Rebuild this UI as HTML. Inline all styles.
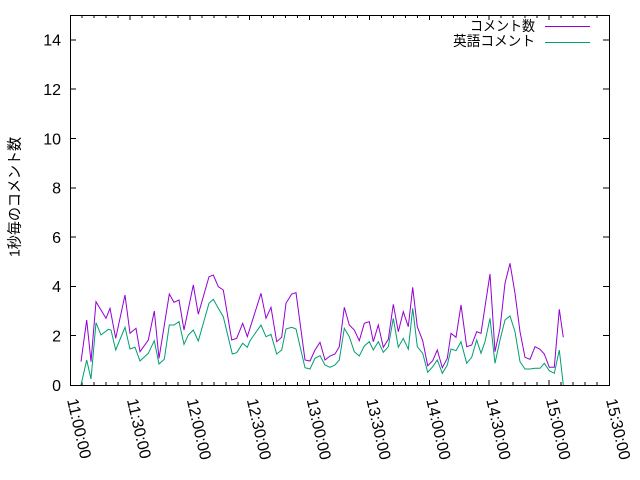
<!DOCTYPE html>
<html><head><meta charset="utf-8"><style>
html,body{margin:0;padding:0;background:#fff;}
svg{display:block;}
text{font-family:"Liberation Sans","Noto Sans CJK JP",sans-serif;fill:#000;}
</style></head><body>
<svg width="640" height="480" viewBox="0 0 640 480" xmlns="http://www.w3.org/2000/svg">
<rect width="640" height="480" fill="#fff"/>
<g stroke="#000" stroke-width="1" fill="none" shape-rendering="crispEdges">
<rect x="70.5" y="15.5" width="539" height="370"/>
<path d="M70 335.7h6M70 286.4h6M70 237.1h6M70 187.8h6M70 138.5h6M70 89.2h6M70 39.9h6
M609 335.7h-6M609 286.4h-6M609 237.1h-6M609 187.8h-6M609 138.5h-6M609 89.2h-6M609 39.9h-6"/>
<path d="M129.9 385v-5M189.8 385v-5M249.7 385v-5M309.6 385v-5M369.4 385v-5M429.3 385v-5M489.2 385v-5M549.1 385v-5
M129.9 15v5M189.8 15v5M249.7 15v5M309.6 15v5M369.4 15v5M429.3 15v5M489.2 15v5M549.1 15v5"/>
<path d="M82 385v-3M94 385v-3M106 385v-3M118 385v-3
M142 385v-3M154 385v-3M166 385v-3M178 385v-3
M202 385v-3M214 385v-3M226 385v-3M238 385v-3
M261.6 385v-3M273.6 385v-3M285.6 385v-3M297.6 385v-3
M321.5 385v-3M333.5 385v-3M345.5 385v-3M357.5 385v-3
M381.4 385v-3M393.4 385v-3M405.4 385v-3M417.4 385v-3
M441.3 385v-3M453.3 385v-3M465.3 385v-3M477.3 385v-3
M501.2 385v-3M513.2 385v-3M525.2 385v-3M537.2 385v-3
M561.1 385v-3M573.1 385v-3M585.1 385v-3M597.1 385v-3
M82 15v3M94 15v3M106 15v3M118 15v3
M142 15v3M154 15v3M166 15v3M178 15v3
M202 15v3M214 15v3M226 15v3M238 15v3
M261.6 15v3M273.6 15v3M285.6 15v3M297.6 15v3
M321.5 15v3M333.5 15v3M345.5 15v3M357.5 15v3
M381.4 15v3M393.4 15v3M405.4 15v3M417.4 15v3
M441.3 15v3M453.3 15v3M465.3 15v3M477.3 15v3
M501.2 15v3M513.2 15v3M525.2 15v3M537.2 15v3
M561.1 15v3M573.1 15v3M585.1 15v3M597.1 15v3"/>
</g>
<g font-size="16" text-anchor="end">
<text x="61" y="391">0</text>
<text x="61" y="341.5">2</text>
<text x="61" y="292.2">4</text>
<text x="61" y="242.9">6</text>
<text x="61" y="193.6">8</text>
<text x="61" y="144.3">10</text>
<text x="61" y="95">12</text>
<text x="61" y="45.7">14</text>
</g>
<g font-size="16">
<text transform="translate(67,400) rotate(77)">11:00:00</text>
<text transform="translate(126.9,400) rotate(77)">11:30:00</text>
<text transform="translate(186.8,400) rotate(77)">12:00:00</text>
<text transform="translate(246.7,400) rotate(77)">12:30:00</text>
<text transform="translate(306.6,400) rotate(77)">13:00:00</text>
<text transform="translate(366.4,400) rotate(77)">13:30:00</text>
<text transform="translate(426.3,400) rotate(77)">14:00:00</text>
<text transform="translate(486.2,400) rotate(77)">14:30:00</text>
<text transform="translate(546.1,400) rotate(77)">15:00:00</text>
<text transform="translate(606,400) rotate(77)">15:30:00</text>
</g>
<text transform="translate(19.5,197) rotate(-90)" font-size="15" text-anchor="middle" textLength="120" lengthAdjust="spacingAndGlyphs">1秒毎のコメント数</text>
<text x="535" y="31" font-size="14" text-anchor="end" textLength="65" lengthAdjust="spacingAndGlyphs">コメント数</text>
<text x="535" y="46" font-size="14" text-anchor="end" textLength="82" lengthAdjust="spacingAndGlyphs">英語コメント</text>
<line x1="545" y1="26.5" x2="590" y2="26.5" stroke="#9400D3" stroke-width="1"/>
<line x1="545" y1="42.5" x2="590" y2="42.5" stroke="#009E73" stroke-width="1"/>
<polyline fill="none" stroke="#9400D3" stroke-width="1" points="81,361.7 86.7,320 91,361.7 96,301.7 106,318.3 110,308.3 115.7,338.3 125,295 130,333.3 136,328.3 140,351.7 148.3,340 154.3,311 159,358.3 169.3,294 174,302.3 179,300 184,330 193.3,285 198.3,314.3 209,276.7 213.3,275 218.3,286.7 223.3,290 231.7,340 236.7,338.3 242.7,323.3 247.3,336.7 261,293.3 266,318.3 271,307.3 276.7,341.7 281.7,337.3 286,303.3 291.7,294 296,292.7 305,360 310,361 315,350 320,342.3 325,360 330,356 335,354 339.3,346.7 344.3,307.3 349.3,325 354.3,330 359.3,340.7 364.3,323.3 369.3,321.7 373.3,341.7 378.3,325 383.3,347.3 388.3,339.3 393.3,304.3 398.3,331.7 403.3,311.7 408.3,326.7 412.7,287.3 417.3,326.7 422.7,340.7 427.7,365.7 432.7,360.7 437.3,350 442.3,367.7 447.3,358.3 451,333.3 456,337.3 461,305 466.7,346.7 471.7,345 476.7,331.7 481,333.3 485,306.7 490,274 495,351.7 500,328.3 505,283.3 510,263.3 515,293.3 520,331.7 525,357.3 530,359.3 535,346.7 540,349.3 544.3,354 549.3,367.3 554.3,367.3 559.3,309.3 563.3,337.3"/>
<polyline fill="none" stroke="#009E73" stroke-width="1" points="81,385 86.7,360 91,379 96,322.7 101,335 108.3,329.3 111,330 115.7,350 125,327.3 130,349 135,347.3 140,361 148.3,353.3 154.3,340.7 159,364 164.3,359.3 169.3,325 174,325 179,321.7 184,344.3 188.3,335 193.3,330 198.3,341 209,303.3 213.3,299.3 218.3,308.3 223.3,316.7 232.3,354 236.7,352.7 242.7,343.3 247.3,347.3 250,340.7 261,325 266,336.7 271,334.3 276.7,354 281.7,350 286,329 291.7,327.3 296,329 305,367.7 310,369 315,358.3 320,355.7 325,365 330,367.3 335,365 339.3,360 344.3,328.3 349.3,336.7 354.3,351.7 359.3,356 364.3,346 369.3,341.7 373.3,350 378.3,341.7 383.3,352.3 388.3,346.7 393.3,318.3 398.3,347.3 403.3,338.3 408.3,349.3 412.7,308.3 417.3,346.7 422.7,353.3 427.7,372.3 432.7,366.7 437.3,360 442.3,373.3 447.3,365 451,349 456,350.7 461,341.7 466.7,363.3 471.7,357.3 476.7,340 481,353.3 485,341.7 490,318.3 495,363.3 500,340 505,320 510,316 515,331.7 520,361.7 525,369 530,369 535,368.3 540,368.3 544.3,363.3 549.3,370.7 554.3,373.3 559.3,350 563.3,385"/>
</svg>
</body></html>
